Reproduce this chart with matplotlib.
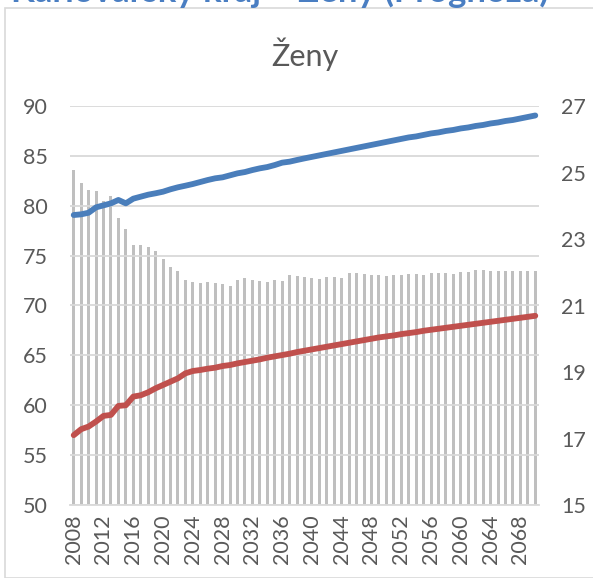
import matplotlib
matplotlib.use("Agg")
import matplotlib.pyplot as plt
from matplotlib.patches import Rectangle

plt.rcParams['font.family'] = ['Lato', 'DejaVu Sans']

years = list(range(2008, 2071))

# sloupce (levá osa)
bars = [83.6, 82.3, 81.55, 81.5, 80.5, 81.0, 78.8, 77.7, 76.05, 76.05,
        75.9, 75.45, 74.65, 73.9, 73.45, 72.55, 72.4, 72.25, 72.4, 72.3,
        72.15, 72.0, 72.55, 72.75, 72.6, 72.45, 72.35, 72.55, 72.45, 73.05,
        72.95, 72.85, 72.75, 72.65, 72.9, 72.85, 72.75, 73.3, 73.25, 73.15,
        73.1, 73.05, 72.95, 73.1, 73.1, 73.2, 73.15, 73.1, 73.3, 73.3,
        73.25, 73.2, 73.4, 73.4, 73.6, 73.55, 73.5, 73.45, 73.45, 73.45,
        73.45, 73.45, 73.45]

# modrá linka (levá osa)
blue = [79.07, 79.14, 79.3, 79.84, 80.04, 80.24, 80.58, 80.24, 80.71, 80.91,
        81.11, 81.25, 81.41, 81.65, 81.85, 82.01, 82.18, 82.38, 82.58, 82.75,
        82.85, 83.05, 83.25, 83.38, 83.58, 83.75, 83.88, 84.08, 84.32, 84.42,
        84.59, 84.75, 84.9, 85.05, 85.2, 85.35, 85.5, 85.65, 85.8, 85.95,
        86.1, 86.25, 86.4, 86.55, 86.7, 86.85, 86.95, 87.1, 87.25, 87.35,
        87.5, 87.6, 87.75, 87.85, 88.0, 88.1, 88.25, 88.35, 88.5, 88.6,
        88.75, 88.9, 89.05]

# červená linka (pravá osa)
red = [17.1, 17.28, 17.36, 17.51, 17.68, 17.71, 17.98, 18.0, 18.26, 18.3,
       18.39, 18.51, 18.61, 18.71, 18.81, 18.96, 19.03, 19.06, 19.1, 19.13,
       19.18, 19.21, 19.26, 19.3, 19.34, 19.38, 19.43, 19.47, 19.51, 19.55,
       19.6, 19.64, 19.68, 19.72, 19.76, 19.8, 19.84, 19.88, 19.92, 19.96,
       20.0, 20.04, 20.07, 20.1, 20.14, 20.17, 20.2, 20.24, 20.27, 20.3,
       20.33, 20.36, 20.39, 20.42, 20.45, 20.48, 20.51, 20.54, 20.57, 20.6,
       20.63, 20.66, 20.69]

left_ticks = [50, 55, 60, 65, 70, 75, 80, 85, 90]
right_ticks = [15, 17, 19, 21, 23, 25, 27]

W, H = 593, 578
fig = plt.figure(figsize=(W / 100, H / 100), dpi=100)

# rámeček oblasti grafu
fig.patches.append(Rectangle((5 / W, 0), 1, 1 - 7.5 / H, transform=fig.transFigure,
                             fill=False, edgecolor='#D9D9D9', linewidth=1.2))

# oříznutý nadpis nahoře (v originále je vidět jen spodní okraj)
fig.text(280 / W, 1 + 11 / H, 'Karlovarský kraj – Ženy (Prognóza)', ha='center', va='center',
         fontsize=25, fontweight='bold', color='#4A7EC2')

ax = fig.add_axes([70 / W, 73 / H, 469 / W, 399 / H])
x = list(range(len(years)))

ax.bar(x, [b - 50 for b in bars], bottom=50, width=0.4, color='#BFBFBF', zorder=1)
ax.plot(x, blue, color='#4A7EBB', linewidth=4.2, solid_capstyle='round',
        solid_joinstyle='round', zorder=4)

ax.set_xlim(-0.5, len(years) - 0.5)
ax.set_ylim(50, 90)
ax.set_yticks(left_ticks)
ax.set_axisbelow(False)
ax.yaxis.grid(True, color='#D9D9D9', linewidth=1.3, zorder=2.5)
for s in ['top', 'left', 'right']:
    ax.spines[s].set_visible(False)
ax.spines['bottom'].set_color('#D9D9D9')
ax.spines['bottom'].set_linewidth(1.3)

ax.set_xticks(x[::4])
ax.set_xticklabels([str(y) for y in years[::4]], rotation=90)
ax.tick_params(axis='x', length=0, pad=7, labelsize=15.5, labelcolor='#595959')
ax.tick_params(axis='y', length=0, pad=16, labelsize=15.5, labelcolor='#595959')

ax2 = ax.twinx()
ax2.plot(x, red, color='#C0504D', linewidth=4.2, solid_capstyle='round',
         solid_joinstyle='round', zorder=4)
ax2.set_ylim(15, 27)
ax2.set_yticks(right_ticks)
for s in ax2.spines.values():
    s.set_visible(False)
ax2.tick_params(axis='y', length=0, pad=16, labelsize=15.5, labelcolor='#595959')

fig.text(305 / W, 1 - 54 / H, 'Ženy', ha='center', va='center', fontsize=22, color='#595959')

fig.savefig('out.png', dpi=100)
